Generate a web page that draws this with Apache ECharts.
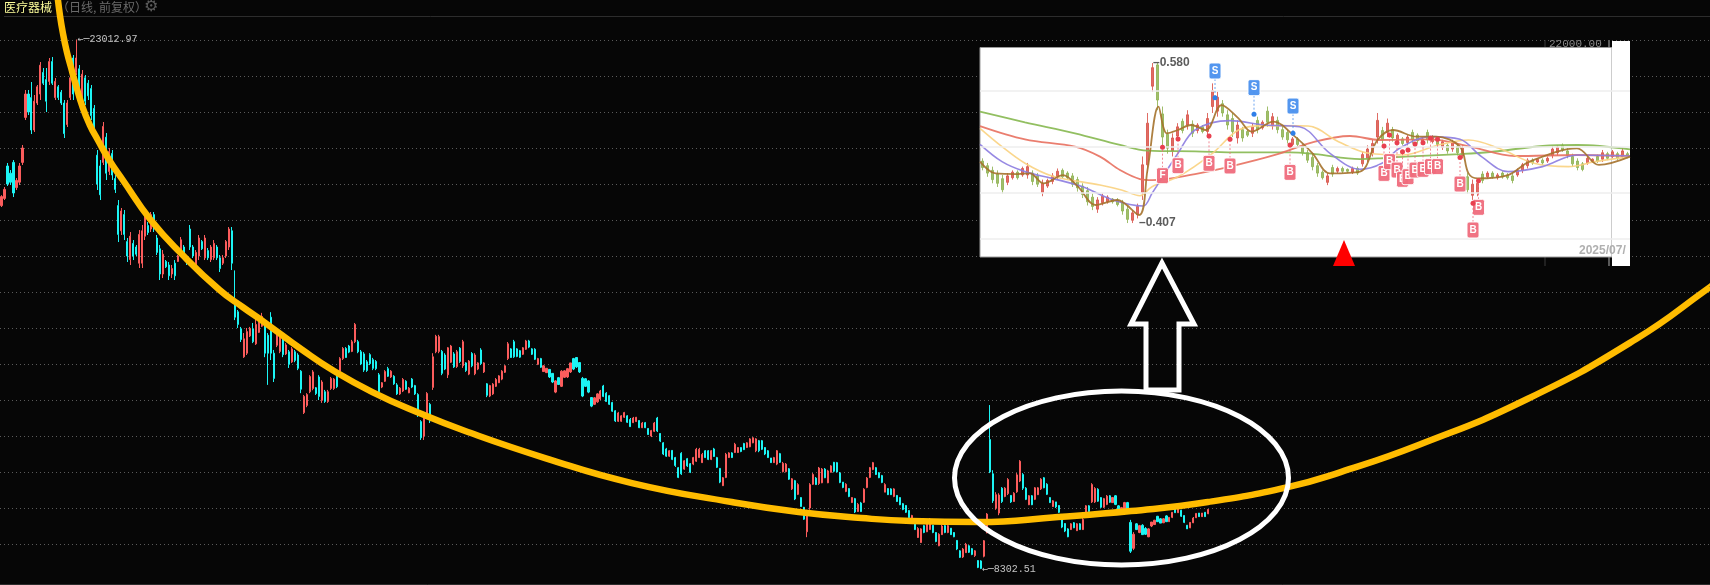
<!DOCTYPE html>
<html><head><meta charset="utf-8">
<style>html,body{margin:0;padding:0;background:#060606}#c{width:1710px;height:585px}</style>
<script src="https://cdn.jsdelivr.net/npm/echarts@6/dist/echarts.min.js"></script>
</head><body><div id="c"></div>
<script>
// Main index candles, [open, close, low, high]
const legA = [[18400,18650,18360,18690],[18600,18850,18555,18917],[19500,19000,18944,19583],[19300,19050,18972,19388],[19600,18750,18638,19666],[18900,19100,18833,19166],[19050,19500,18972,19583],[19600,20000,19527,20083],[20850,21500,20777,21611],[21500,21000,20916,21611],[21400,20500,20388,21833],[20500,21300,20444,21472],[21250,21700,21194,21750],[21500,22300,21333,22389],[22100,21800,21750,22222],[21900,21300,21000,22222],[21850,22400,21750,22500],[22400,21800,21750,22528],[21400,21850,21333,21944],[21700,21400,21333,21750],[21550,21250,21194,21611],[21250,20400,20277,21333],[20650,21250,20583,21333],[21400,21950,21333,22027],[22500,21500,21333,22583],[22100,22500,22027,23012.97],[22200,21500,21333,22305],[21200,22050,21055,22166],[21950,21300,21194,22027],[21800,21450,21333,21889],[21650,20900,20777,21750],[21100,20350,20222,21194],[19800,19000,18833,19944],[19500,18700,18555,19666],[19600,20600,19527,20722],[20300,19300,19111,20416],[19350,19900,19250,20000],[19850,19250,19111,19944],[19150,18850,18750,19250],[18400,17600,17388,18555],[17700,18250,17583,18333],[18150,17600,17444,18277],[17400,17000,16833,17500],[16900,17550,16750,17666],[17350,17000,16888,17444],[17250,17050,17000,17305],[16800,17600,16666,17722],[16800,17700,16666,17861],[17550,18150,17444,18277],[17850,17650,17583,17944],[17750,18150,17666,18222],[18150,17750,17666,18222],[17500,17100,17027,17583],[17200,16500,16333,17305],[16500,17050,16388,17166],[16850,16700,16666,16888],[16750,16450,16333,16833],[16500,16650,16388,16750],[16800,16450,16333,16888],[16850,17000,16833,17027],[17050,17450,17027,17527],[17250,16950,16888,17305],[16950,16800,16750,17027],[17750,17250,17166,17861],[17250,17000,16944,17305],[16750,17100,16666,17166],[17000,17500,16888,17583],[17400,17200,17166,17444],[16950,17500,16888,17583],[17150,16950,16888,17222],[16900,17250,16833,17305],[16950,17350,16888,17444],[17250,16950,16888,17305],[16950,16650,16555,17027],[16800,16950,16750,17027],[17000,17400,16944,17444],[17250,17750,17166,17805],[17700,16800,16610,17805]];
const legB = [[15700,15300,15220,16600],[15450,15100,15000,15500],[14980,14680,14610,15030],[14200,14700,14170,14860],[14300,14900,14250,15000],[14780,14990,14750,15030],[14980,14620,14580,15140],[14560,15100,14530,15300],[14880,15300,14860,15360],[15050,15320,15030,15420],[15100,14300,14190,15220],[14800,14300,13420,14860],[15300,14300,14110,15440],[14300,13600,13500,14390],[14520,14820,14470,14890],[14350,14850,14300,14940],[14800,14260,14190,14860],[14280,14530,14250,14580],[14340,13990,13890,14390],[14060,14420,14030,14470],[14340,14100,14050,14390],[14250,13880,13830,14300],[13800,13300,13190,13830],[12650,13100,12610,13140],[12850,13150,12800,13190],[13230,13650,13190,13690],[13320,13780,13270,13830],[13340,13180,13140,13360],[13640,13100,13000,13690],[12990,13500,12920,13550],[13230,12960,12920,13280],[12960,13230,12920,13280],[13320,13600,13280,13640],[13320,13580,13280,13610],[13700,13370,13330,13750],[13800,14150,13750,14190],[14150,14430,14110,14470],[14430,14180,14170,14470],[14500,14330,14300,14530],[14350,14620,14330,14670],[14620,15100,14580,15140],[14620,14340,14300,14670],[14340,14000,13970,14390],[14280,13830,13780,14330],[14060,13820,13780,14110],[14260,14010,13970,14300],[14120,13880,13830,14170],[14070,13870,13830,14110],[13700,13230,13190,13750],[13360,13480,13330,13500],[13520,13790,13500,13830],[13870,13660,13640,13920],[13640,13800,13610,13830],[13660,13450,13420,13690],[13420,13170,13140,13470],[13170,13330,13140,13360],[13250,13570,13220,13610],[13520,13300,13280,13550],[13200,13330,13190,13360],[13580,13360,13330,13610],[13400,13170,13140,13420],[13150,12580,12530,13190],[12400,11950,11890,12440],[12000,12600,11890,12640],[12550,13180,12500,13220],[12880,12420,12360,12920],[13350,14200,13280,14300],[14340,14770,14300,14810],[14350,14760,14300,14810],[14350,13740,13690,14390],[14250,13860,13830,14300],[13700,14450,13610,14470],[14050,14500,14030,14530],[14280,13920,13890,14330],[13930,14340,13890,14390],[14440,14070,14030,14470],[13950,14620,13890,14670],[14030,13820,13780,14050],[13720,14080,13690,14110],[14290,13950,13910,14330],[13730,14250,13690,14300],[13860,14030,13830,14050],[14390,14010,13970,14440],[13780,14030,13750,14050],[13450,13130,13080,13470],[13110,13400,13080,13420],[13170,13440,13140,13470],[13380,13570,13360,13610],[13480,13670,13470,13690],[13580,13800,13550,13830],[13770,13950,13750,13970],[14150,14560,14110,14610],[14420,14180,14170,14440],[14620,14200,14170,14670],[14420,14210,14190,14440],[14370,14190,14170,14390],[14270,14450,14250,14470],[14410,14640,14390,14670],[14640,14470,14440,14670],[14420,14270,14250,14440],[14410,14130,14110,14440],[13990,14150,13970,14170],[14150,13910,13890,14170],[13790,13950,13780,13970],[13760,13880,13750,13890],[13850,13640,13610,13860],[13740,13500,13470,13750],[13220,13530,13190,13550],[13620,13430,13420,13640],[13380,13800,13360,13830],[13630,13810,13610,13830],[13640,13870,13610,13890],[13780,14030,13750,14030],[14150,13860,13830,14170],[14180,13920,13890,14190],[14040,13780,13750,14050],[13600,13110,13080,13640],[13590,13380,13360,13610],[13530,13220,13190,13550],[13070,12830,12800,13080],[12880,13060,12860,13080],[12950,13170,12920,13190],[13030,13250,13000,13280],[13390,13100,13080,13420],[13190,12960,12950,13220],[13120,12880,12860,13140],[12930,12690,12670,12950],[12700,12420,12390,12720],[12410,12640,12390,12670],[12410,12560,12390,12580],[12520,12650,12500,12670],[12560,12380,12360,12580],[12460,12260,12250,12500]];
const legC = [[12370,12500,12360,12530],[12400,12520,12390,12530],[12430,12230,12220,12440],[12230,12360,12220,12390],[12370,12230,12220,12390],[12210,12040,12030,12220],[12000,12150,11970,12170],[12130,12360,12110,12390],[12500,12140,12110,12530],[12070,11860,11830,12080],[11810,11500,11470,11830],[11640,11440,11420,11670],[11440,11590,11420,11610],[11600,11350,11330,11610],[11400,11180,11140,11420],[11120,10850,10830,11140],[11520,10950,10920,11550],[11080,11310,11060,11330],[11370,11170,11140,11390],[11230,10990,10970,11250],[11220,11400,11190,11420],[11300,11630,11280,11670],[11400,11630,11390,11670],[11260,11490,11250,11530],[11590,11400,11390,11610],[11590,11350,11330,11610],[11350,11590,11330,11610],[11640,11430,11420,11670],[11400,11130,11110,11420],[11100,10720,10690,11110],[10620,10840,10610,10860],[10850,11490,10830,11530],[11400,11530,11390,11550],[11530,11400,11390,11550],[11540,11770,11530,11810],[11540,11680,11530,11690],[11680,11570,11550,11690],[11790,11620,11610,11810],[11680,11810,11670,11830],[11700,11920,11690,11940],[11810,11950,11800,11970],[11590,11920,11550,11940],[11870,11590,11550,11890],[11870,11630,11610,11890],[11680,11500,11470,11690],[11590,11400,11390,11610],[11390,11260,11250,11390],[11260,11400,11250,11420],[11220,11590,11190,11610],[11510,11270,11250,11530],[11010,11240,10990,11280],[11010,11220,10990,11250],[11090,10800,10780,11110],[10530,10810,10500,10830],[10760,10250,10220,10780],[10380,10650,10360,10690],[10290,10040,10030,10300],[10020,9690,9670,10030],[9340,9890,9190,9950],[10000,10650,9950,10690],[10660,10930,10640,10970],[10830,10650,10640,10860],[10680,11110,10640,11140],[10700,11080,10690,11110],[11080,10840,10830,11110],[10700,11030,10690,11060],[10990,11170,10990,11190],[11270,11020,10990,11280],[11260,11000,10990,11280],[10970,10710,10690,11000],[10720,10570,10550,10720],[10460,10660,10440,10690],[10540,10320,10300,10550],[10150,10290,10140,10300],[10260,9890,9860,10280],[9900,10100,9890,10140],[10140,9900,9890,10170],[10160,10520,10140,10550],[10570,10830,10550,10860],[10850,11120,10830,11140],[11070,11260,11050,11280],[11120,10930,10920,11140],[10980,10840,10830,11000],[10900,10710,10690,10920],[10440,10650,10440,10690],[10540,10370,10360,10550],[10530,10370,10360,10550],[10320,10530,10300,10550],[10350,10180,10170,10360],[10290,10090,10080,10300],[10120,9960,9940,10140],[10070,9880,9860,10080],[9930,9730,9720,9940],[9620,9790,9610,9810],[9570,9400,9390,9580],[9180,9430,9170,9470],[9040,9420,9030,9440],[9510,9320,9300,9530],[9340,9560,9330,9580],[9400,9690,9390,9720],[9520,9320,9300,9530],[9320,9070,9050,9330],[8950,9270,8940,9300],[9260,9500,9250,9530],[9510,9320,9300,9530],[9320,9510,9300,9530],[9440,9260,9250,9440],[9320,9200,9190,9330],[9100,8860,8830,9110],[8810,8630,8610,8830],[8640,8860,8610,8890],[8760,8990,8750,9030],[8950,8770,8750,8970],[8870,8710,8690,8890],[8680,8810,8640,8830],[8540,8350,8330,8550],[8530,8320,8302.51,8550],[8660,9090,8630,9110],[9310,9830,9300,9860],[11900,11000,10970,12860]];
const legD = [[10950,10200,10140,11050],[10000,10370,9950,10440],[9860,10360,9800,10410],[10550,10180,10140,10580],[10320,10550,10300,10580],[10400,10790,10360,10830],[10350,10170,10140,10360],[10180,10410,10170,10440],[10450,10920,10420,10970],[10750,11300,10720,11330],[10930,10550,10500,10970],[10550,10240,10220,10580],[10090,10340,10080,10360],[10340,10090,10080,10360],[10240,10560,10220,10580],[10370,10560,10360,10580],[10530,10800,10500,10830],[10840,10560,10550,10860],[10660,10380,10360,10690],[10290,10150,10140,10300],[10040,10200,10030,10220],[10170,10030,10000,10170],[10070,9880,9860,10080],[9790,9470,9440,9800],[9570,9360,9330,9580],[9420,9200,9190,9440],[9400,9560,9390,9580],[9590,9450,9440,9610],[9370,9560,9360,9580],[9560,9400,9390,9580],[9400,9680,9390,9720],[9760,10060,9750,10080],[10060,9900,9890,10080],[10170,10650,10140,10690],[10170,10540,10140,10580],[10520,10190,10170,10550],[10290,10020,10000,10300],[10020,10260,10000,10280],[10100,10330,10080,10360],[10340,10160,10140,10360],[10150,10290,10140,10300],[10340,10100,10080,10360],[10060,9900,9890,10080],[9880,10010,9860,10030],[9900,10150,9890,10170],[10150,9900,9890,10170],[9600,8800,8750,9670],[8880,9270,8830,9330],[9560,9400,9390,9580],[9320,9510,9300,9530],[9520,9260,9250,9550],[9430,9270,9250,9470],[9200,9420,9190,9440],[9500,9610,9470,9610],[9540,9660,9530,9670],[9770,9620,9610,9780],[9700,9580,9580,9720],[9590,9700,9580,9720],[9780,9620,9610,9800],[9620,9740,9610,9750],[9740,9880,9720,9890],[9990,9870,9860,10000],[9870,9990,9860,10000],[9940,9770,9750,9950],[9790,9600,9580,9800],[9520,9420,9420,9530],[9450,9600,9440,9610],[9590,9720,9580,9750],[9730,9850,9720,9860],[9860,9760,9750,9860],[9760,9860,9750,9860],[9880,9760,9750,9890],[9840,9960,9830,9970]];
const highPrice = 23012.97, lowPrice = 8302.51;

// Hand-drawn cup curve annotation: [horizontal position, price]
const cupCurve = [[54.5,24250],[57,23694],[60,23194],[64,22666],[68,22250],[73,21750],[80,21111],[87,20638],[95,20222],[107,19638],[120,19111],[148,18000],[180,17027],[217,16055],[240,15583],[263,15138],[300,14388],[330,13832],[370,13221],[417,12638],[463,12138],[543,11388],[630,10693],[730,10165],[797,9888],[860,9721],[910,9638],[977,9610],[1057,9749],[1130,9915],[1207,10165],[1287,10582],[1340,10999],[1418,11749],[1527,13027],[1636,14694],[1710,16138],[1725,16444]];

// Inset stock chart candles, [open, close, low, high]
const insetCandles = [[.474,.467,.464,.477],[.469,.461,.457,.472],[.464,.454,.450,.468],[.460,.450,.446,.464],[.455,.443,.439,.459],[.451,.458,.448,.461],[.456,.462,.454,.464],[.462,.456,.454,.464],[.459,.466,.457,.468],[.459,.468,.455,.472],[.461,.452,.448,.464],[.458,.449,.446,.461],[.440,.450,.436,.454],[.447,.453,.445,.455],[.452,.458,.449,.461],[.457,.463,.454,.466],[.464,.457,.455,.466],[.461,.456,.454,.463],[.458,.449,.446,.461],[.454,.445,.441,.457],[.447,.438,.434,.450],[.442,.430,.426,.446],[.435,.425,.421,.439],[.422,.432,.418,.435],[.429,.436,.426,.439],[.430,.435,.428,.437],[.433,.430,.428,.434],[.432,.427,.425,.434],[.429,.420,.416,.432],[.422,.411,.407,.426],[.410,.418,.407,.421],[.416,.425,.412,.428],[.440,.470,.432,.479],[.470,.515,.461,.526],[.555,.575,.549,.580],[.578,.540,.529,.580],[.525,.500,.490,.533],[.503,.488,.482,.508],[.485,.499,.479,.504],[.501,.511,.497,.515],[.517,.507,.504,.520],[.513,.524,.508,.529],[.514,.504,.500,.518],[.507,.513,.504,.515],[.511,.506,.504,.513],[.506,.520,.500,.526],[.533,.550,.526,.558],[.528,.543,.522,.549],[.536,.526,.522,.540],[.524,.513,.508,.529],[.520,.506,.500,.526],[.499,.513,.493,.518],[.508,.499,.495,.511],[.506,.502,.500,.508],[.504,.511,.500,.515],[.518,.508,.504,.522],[.510,.516,.508,.518],[.528,.516,.511,.533],[.512,.522,.508,.526],[.518,.508,.504,.522],[.508,.500,.497,.511],[.505,.497,.493,.508],[.492,.498,.490,.500],[.498,.492,.490,.500],[.490,.483,.480,.493],[.483,.475,.472,.486],[.478,.468,.464,.482],[.469,.461,.457,.472],[.462,.456,.454,.464],[.451,.458,.448,.461],[.467,.460,.457,.470],[.463,.466,.461,.468],[.466,.463,.461,.468],[.465,.463,.461,.466],[.462,.466,.460,.468],[.466,.461,.459,.468],[.471,.481,.468,.484],[.477,.487,.473,.491],[.483,.493,.479,.497],[.500,.518,.493,.526],[.507,.497,.493,.511],[.505,.515,.500,.520],[.508,.499,.495,.511],[.496,.502,.493,.504],[.498,.493,.491,.500],[.494,.500,.491,.502],[.505,.497,.493,.508],[.502,.496,.493,.504],[.495,.498,.493,.500],[.505,.497,.493,.508],[.495,.500,.493,.502],[.498,.492,.490,.500],[.489,.495,.486,.497],[.491,.485,.482,.493],[.487,.494,.484,.497],[.490,.483,.480,.493],[.480,.488,.477,.491],[.457,.443,.439,.461],[.437,.449,.432,.454],[.440,.450,.436,.454],[.460,.453,.450,.463],[.457,.461,.455,.463],[.461,.457,.455,.463],[.456,.459,.454,.461],[.461,.457,.455,.463],[.459,.456,.454,.461],[.458,.453,.450,.461],[.459,.464,.457,.466],[.464,.470,.461,.472],[.469,.475,.466,.477],[.475,.472,.470,.477],[.473,.476,.472,.477],[.475,.472,.470,.477],[.474,.477,.472,.479],[.480,.487,.477,.490],[.483,.489,.480,.491],[.491,.486,.484,.493],[.485,.480,.477,.488],[.479,.471,.468,.482],[.474,.467,.464,.477],[.471,.465,.463,.473],[.472,.477,.470,.479],[.473,.476,.472,.477],[.479,.474,.472,.481],[.476,.483,.473,.486],[.482,.477,.475,.484],[.479,.484,.477,.486],[.482,.477,.475,.484],[.479,.485,.477,.488],[.482,.479,.477,.484]];

// Inset moving averages, [day, value]
const maLong = [[0,.5274],[9,.5159],[19,.5040],[28,.4914],[33.5,.4853],[43,.4845],[52,.4835],[62,.4835],[67,.4816],[76,.4762],[80,.4770],[85,.4788],[96,.4816],[102,.4838],[112.5,.4903],[119.5,.4914],[130,.4867]];
const maRed = [[0,.5119],[9,.4975],[19,.4896],[24,.4788],[28,.4643],[32,.4546],[34.5,.4535],[43,.4600],[50,.4680],[59,.4806],[67,.4950],[74,.5011],[80,.4968],[90,.4975],[98,.4896],[107,.4795],[119.5,.4806],[130,.4795]];
const maYellow = [[0,.5094],[4.4,.4896],[9,.4716],[14.4,.4579],[24,.4481],[28.3,.4427],[32,.4366],[34.4,.4463],[39.6,.4571],[46.5,.4824],[51.7,.5076],[57,.5123],[65.6,.5119],[71.7,.4950],[77.8,.4824],[84.7,.4806],[91.7,.4914],[97.7,.4968],[103.8,.4878],[110.8,.4716],[117.7,.4680],[123,.4734],[130,.4788]];
const maPurple = [[0,.4921],[4.4,.4734],[9,.4626],[14.4,.4553],[20.5,.4463],[26.6,.4319],[32.6,.4254],[34.4,.4391],[39.6,.4824],[43,.5076],[50,.5177],[57,.5130],[63.9,.5112],[70,.4824],[76,.4651],[80.4,.4716],[83.9,.4878],[90,.5004],[96,.4975],[100.3,.4788],[105.6,.4626],[112.5,.4680],[119.4,.4806],[130,.4795]];
const maBrown = [[0,.4734],[3.1,.4607],[7.5,.4600],[10,.4607],[12.7,.4499],[16.6,.4589],[19.6,.4463],[23.1,.4265],[27.4,.4319],[31.8,.4157],[33.5,.4644],[35.7,.5328],[37.4,.5040],[39.6,.5076],[42.2,.5130],[45.2,.5076],[48.3,.5346],[51.7,.5202],[54.3,.5058],[58.7,.5166],[63,.5004],[66.5,.4824],[70,.4607],[76,.4626],[79.5,.4968],[82.6,.5076],[87.3,.5004],[91.2,.5004],[96,.4896],[97.7,.4607],[99.5,.4553],[105.6,.4589],[109.9,.4734],[119.4,.4878],[123.8,.4698],[130,.4788]];

// Inset signals: [day, badge level, dot level, letter]
const sellSignals = [[47,.5714,.5426,'S'],[54.8,.5534,.5245,'S'],[62.6,.5335,.5040,'S']];
const buySignals = [[36.5,.4582,.4889,'F'],[39.6,.4690,.4979,'B'],[45.8,.4716,.5011,'B'],[50,.4687,.4975,'B'],[62,.4618,.4914,'B'],[80.8,.4607,.4903,'B'],[81.9,.4734,.5022,'B'],[83.4,.4643,.4939,'B'],[84.5,.4543,.4842,'B'],[85.6,.4571,.4860,'B'],[87,.4643,.4925,'B'],[88.6,.4651,.4939,'B'],[90.1,.4680,.4986,'B'],[91.5,.4680,.4975,'B'],[96,.4492,.4780,'B'],[99.7,.4240,.4528,'B'],[98.6,.3995,.4283,'B']];
const insetExtremes = [[34.6,.580],[31.8,.407]];
const insetGuides = [.5454,.4914,.4391,.3862];

const candles = legA.concat(legB, legC, legD);
const slots = Array.from({length:571},(_,i)=>i);
const insetDays = insetCandles.map((_,i)=>i);
const hiIdx = candles.findIndex(r=>r[3]===highPrice);
const loIdx = candles.findIndex(r=>r[2]===lowPrice);

const chart = echarts.init(document.getElementById('c'),null,{renderer:'canvas'});
const MONO = '"Liberation Mono","DejaVu Sans Mono",monospace';
const CJK = '"Noto Sans CJK SC",sans-serif';

function signalItem(color){
  return function(params, api){
    const d = api.value(0);
    const badge = api.coord([d, api.value(1)]);
    const dot = api.coord([d, api.value(2)]);
    const letter = (color==='#4a90ee'?sellSignals:buySignals)[params.dataIndex][3];
    return {type:'group',children:[
      {type:'line',shape:{x1:badge[0],y1:badge[1],x2:dot[0],y2:dot[1]},style:{stroke:color,lineWidth:1,lineDash:[2,2],opacity:.8}},
      {type:'circle',shape:{cx:dot[0],cy:dot[1],r:2.5},style:{fill:color==='#4a90ee'?'#2f7fe8':'#e8404f'}},
      {type:'rect',shape:{x:badge[0]-6,y:badge[1]-8,width:12,height:16,r:2},style:{fill:color,stroke:'#fff',opacity:.95}},
      {type:'text',x:badge[0],y:badge[1],style:{text:letter,fill:'#fff',font:'bold 10px "Liberation Sans",sans-serif',textAlign:'center',textVerticalAlign:'middle'}}
    ]};
  };
}
function ma(name,data,color,width){
  return {name,type:'line',xAxisIndex:3,yAxisIndex:1,data,smooth:.35,symbol:'none',silent:true,lineStyle:{color,width,opacity:.9},z:4};
}

chart.setOption({
  animation:false,
  backgroundColor:'#060606',
  grid:[
    {left:-3,top:4,width:1713,height:576},
    {left:980,top:47.5,width:650,height:209.5}
  ],
  xAxis:[
    {type:'category',gridIndex:0,data:slots,show:false},
    {type:'value',gridIndex:0,min:-3,max:1710,show:false},
    {type:'category',gridIndex:1,data:insetDays,show:false},
    {type:'value',gridIndex:1,min:0,max:130,show:false}
  ],
  yAxis:[
    {type:'value',gridIndex:0,min:8000,max:24000,interval:1000,axisLine:{show:false},axisTick:{show:false},axisLabel:{show:false},
     splitLine:{show:true,showMinLine:false,showMaxLine:false,lineStyle:{color:'#5a5a5a',width:1,type:[1,3]}}},
    {type:'value',gridIndex:1,min:.3703,max:.5968,show:false}
  ],
  series:[
    {name:'main',type:'candlestick',xAxisIndex:0,yAxisIndex:0,data:candles,barWidth:1.6,silent:true,z:2,
     itemStyle:{color:'#fb5c5c',color0:'#1cf4f4',borderColor:'#fb5c5c',borderColor0:'#1cf4f4',borderWidth:1}},
    {name:'extremes',type:'scatter',xAxisIndex:0,yAxisIndex:0,symbolSize:0,silent:true,z:3,
     data:[[hiIdx,highPrice],[loIdx,lowPrice]],
     label:{show:true,position:'right',distance:1,
       formatter:p=>'{a|←─}{b|'+p.value[1].toFixed(2)+'}',
       rich:{a:{color:'#f0f0f0',fontFamily:'"DejaVu Sans Mono",monospace',fontSize:10},b:{color:'#f0f0f0',fontFamily:MONO,fontSize:10}}}},
    {name:'curve',type:'line',xAxisIndex:1,yAxisIndex:0,data:cupCurve,smooth:.5,clip:false,symbol:'none',silent:true,z:5,
     lineStyle:{color:'#ffbc00',width:6.5}},
    {name:'insetK',type:'candlestick',xAxisIndex:2,yAxisIndex:1,data:insetCandles,barWidth:2,silent:true,z:3,
     itemStyle:{color:'#d9534a',color0:'#8fb352',borderColor:'#d9534a',borderColor0:'#8fb352',borderWidth:1,opacity:.85}},
    Object.assign(ma('MA250',maLong,'#86b850',1.8),{markLine:{silent:true,symbol:'none',label:{show:false},lineStyle:{color:'#eeeeee',width:1.5,type:'solid'},data:insetGuides.map(v=>({yAxis:v}))}}),
    ma('MA120',maRed,'#e8705f',1.8),
    ma('MA60',maYellow,'#f9d17f',1.6),
    ma('MA20',maPurple,'#8c7ce0',1.6),
    ma('MA5',maBrown,'#a5722c',1.8),
    {name:'sell',type:'custom',xAxisIndex:3,yAxisIndex:1,data:sellSignals.map(r=>r.slice(0,3)),renderItem:signalItem('#4a90ee'),silent:true,z:6},
    {name:'buy',type:'custom',xAxisIndex:3,yAxisIndex:1,data:buySignals.map(r=>r.slice(0,3)),renderItem:signalItem('#ef6b7c'),silent:true,z:6},
    {name:'insetExt',type:'scatter',xAxisIndex:3,yAxisIndex:1,symbolSize:0,silent:true,z:7,data:insetExtremes,
     label:{show:true,position:'right',distance:0,color:'#333',fontWeight:'bold',fontFamily:'"Liberation Sans",sans-serif',fontSize:12,
       formatter:p=>'–'+p.value[1].toFixed(3)}}
  ],
  graphic:[
    {type:'line',shape:{x1:4,y1:16.5,x2:1710,y2:16.5},style:{stroke:'#2c2c2c',lineWidth:1},z:1,silent:true},
    {type:'line',shape:{x1:0,y1:584.5,x2:1710,y2:584.5},style:{stroke:'#2c2c2c',lineWidth:1},z:1,silent:true},
    {type:'text',x:4,y:1,style:{text:'医疗器械',fill:'#fdfd9a',font:'12px '+CJK},z:1,silent:true},
    {type:'text',x:57,y:1,style:{text:'（日线, 前复权）',fill:'#6a6a6a',font:'12px '+CJK},z:1,silent:true},
    {type:'text',x:144,y:-1,style:{text:'⚙',fill:'#5a5a5a',font:'16px "DejaVu Sans"'},z:1,silent:true},
    {type:'text',x:1549,y:39,style:{text:'22000.00',fill:'#8a8a8a',font:'11px '+MONO},z:1,silent:true},
    {type:'line',shape:{x1:1545,y1:40,x2:1545,y2:266},style:{stroke:'#3a3a3a',lineWidth:1},z:1,silent:true},
    {type:'line',shape:{x1:1609,y1:40,x2:1609,y2:266},style:{stroke:'#5a5a5a',lineWidth:2},z:1,silent:true},
    {type:'rect',shape:{x:980,y:47.5,width:632,height:209.5},style:{fill:'#fff',stroke:'#9a9a9a',lineWidth:1},z:1,silent:true},
    {type:'rect',shape:{x:1612,y:41,width:18,height:225},style:{fill:'#fff'},z:1,silent:true},
    {type:'text',x:1579,y:245,style:{text:'2025/07/',fill:'#b0b0b0',font:'bold 12px "Liberation Sans",sans-serif'},z:8,silent:true},
    {type:'polygon',shape:{points:[[1344,240],[1333,266],[1355,266]]},style:{fill:'#ff0000'},z:10,silent:true},
    {type:'ellipse',shape:{cx:1121.5,cy:478,rx:167,ry:87},style:{fill:'none',stroke:'#ffffff',lineWidth:5},z:10,silent:true},
    {type:'polygon',shape:{points:[[1162,263],[1131,324],[1146,324],[1146,390],[1179,390],[1179,324],[1194,324]]},style:{fill:'none',stroke:'#ffffff',lineWidth:5},z:10,silent:true}
  ]
});
</script></body></html>
